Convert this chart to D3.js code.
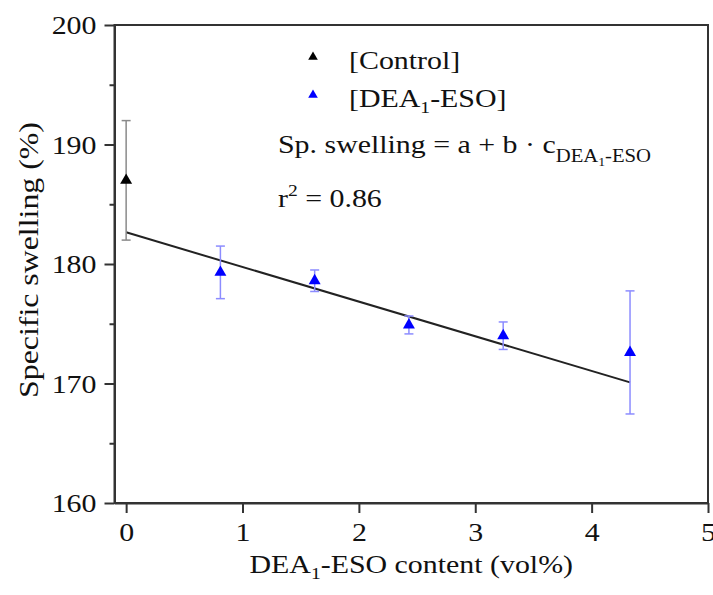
<!DOCTYPE html>
<html>
<head>
<meta charset="utf-8">
<script src="https://cdn.jsdelivr.net/npm/d3@7"></script>
<style>
  body { margin: 0; background: #fff; }
  text { font-family: "Liberation Serif", "Times New Roman", serif; fill: #111; }
  .axis path, .axis line { stroke: #333; stroke-width: 2; }
</style>
</head>
<body>
<div id="chart"></div>
<script>

// data
var controlX = [0],
    controlY = [187.0],
    controlErr = [5.0];

var deaX = [0.81, 1.62, 2.43, 3.24, 4.33],
    deaY = [179.3, 178.6, 174.9, 174.0, 172.6],
    deaErr = [2.2, 0.9, 0.75, 1.15, 5.15];

// linear fit  Sp. swelling = a + b * c
var fitA = 182.65,
    fitB = -2.9,
    fitRange = [0, 4.33];

var xTicks = [0, 1, 2, 3, 4, 5],
    yTicks = [160, 170, 180, 190, 200],
    yMinor = [165, 175, 185, 195];

var width = 713, height = 595;
var margin = { top: 25, right: 5, bottom: 92, left: 114.5 };
var sx = 1.15;   // glyphs in the picture are a bit wide

var svg = d3.select("#chart")
    .append("svg")
    .attr("width", width)
    .attr("height", height);

var x = d3.scaleLinear().domain([-0.1, 5]).range([margin.left, width - margin.right]);
var y = d3.scaleLinear().domain([160, 200]).range([height - margin.bottom, margin.top]);

// frame
svg.append("rect")
    .attr("x", x(-0.1))
    .attr("y", y(200))
    .attr("width", x(5) - x(-0.1))
    .attr("height", y(160) - y(200))
    .style("fill", "none")
    .style("stroke", "#333")
    .style("stroke-width", 2);

// y axis
var yAxis = svg.append("g")
    .attr("class", "axis")
    .attr("transform", "translate(" + x(-0.1) + ",0)")
    .call(d3.axisLeft(y).tickValues(yTicks).tickFormat(d3.format("d")).tickSize(10).tickSizeOuter(0));

yAxis.selectAll("text")
    .attr("x", null)
    .attr("dy", null)
    .attr("transform", "translate(-18,8.5) scale(" + sx + ",1)")
    .style("font-size", "26px")
    .style("text-anchor", "end");

svg.append("g")
    .attr("class", "axis")
    .attr("transform", "translate(" + x(-0.1) + ",0)")
    .call(d3.axisLeft(y).tickValues(yMinor).tickSize(5).tickFormat(""))
    .select(".domain").remove();

// x axis
var xAxis = svg.append("g")
    .attr("class", "axis")
    .attr("transform", "translate(0," + y(160) + ")")
    .call(d3.axisBottom(x).tickValues(xTicks).tickFormat(d3.format("d")).tickSize(10).tickSizeOuter(0));

xAxis.selectAll("text")
    .attr("y", null)
    .attr("dy", null)
    .attr("transform", "translate(0,38) scale(" + sx + ",1)")
    .style("font-size", "26px")
    .style("text-anchor", "middle");

// axis titles
var xt = svg.append("text")
    .attr("transform", "translate(" + ((x(-0.1) + x(5)) / 2) + ",573) scale(" + sx + ",1)")
    .style("font-size", "26px")
    .style("text-anchor", "middle");
xt.append("tspan").text("DEA");
xt.append("tspan").text("1").style("font-size", "17px").attr("dy", 6);
xt.append("tspan").text("-ESO content (vol%)").attr("dy", -6);

svg.append("text")
    .attr("transform", "translate(38," + ((y(160) + y(200)) / 2 - 4) + ") rotate(-90) scale(1.18,1)")
    .style("font-size", "27px")
    .style("text-anchor", "middle")
    .text("Specific swelling (%)");

// fit line
svg.append("line")
    .attr("x1", x(fitRange[0]))
    .attr("y1", y(fitA + fitB * fitRange[0]))
    .attr("x2", x(fitRange[1]))
    .attr("y2", y(fitA + fitB * fitRange[1]))
    .style("stroke", "#222")
    .style("stroke-width", 2);

// error bars + triangles
function drawSeries(xs, ys, errs, barColor, fill) {
    var data = xs.map(function (d, i) { return { x: d, y: ys[i], e: errs[i] }; });
    var g = svg.append("g");
    var eb = g.selectAll(".eb")
        .data(data)
        .enter()
        .append("g")
        .style("stroke", barColor)
        .style("stroke-width", 1.5);
    eb.append("line")
        .attr("x1", function (d) { return x(d.x); })
        .attr("x2", function (d) { return x(d.x); })
        .attr("y1", function (d) { return y(d.y + d.e); })
        .attr("y2", function (d) { return y(d.y - d.e); });
    eb.append("line")
        .attr("x1", function (d) { return x(d.x) - 4.5; })
        .attr("x2", function (d) { return x(d.x) + 4.5; })
        .attr("y1", function (d) { return y(d.y + d.e); })
        .attr("y2", function (d) { return y(d.y + d.e); });
    eb.append("line")
        .attr("x1", function (d) { return x(d.x) - 4.5; })
        .attr("x2", function (d) { return x(d.x) + 4.5; })
        .attr("y1", function (d) { return y(d.y - d.e); })
        .attr("y2", function (d) { return y(d.y - d.e); });

    g.selectAll(".tri")
        .data(data)
        .enter()
        .append("path")
        .attr("d", d3.symbol().type(d3.symbolTriangle).size(62))
        .attr("transform", function (d) { return "translate(" + x(d.x) + "," + y(d.y) + ")"; })
        .style("fill", fill);
}

drawSeries(controlX, controlY, controlErr, "#8a8a8a", "#000");
drawSeries(deaX, deaY, deaErr, "#8c8cff", "#0000ff");

// legend
var legend = [
    { label: ["[Control]"], color: "#000", ty: 57, by: 69 },
    { label: ["[DEA", "1", "-ESO]"], color: "#0000ff", ty: 95, by: 107 }
];

legend.forEach(function (l) {
    svg.append("path")
        .attr("d", d3.symbol().type(d3.symbolTriangle).size(40))
        .attr("transform", "translate(313," + l.ty + ")")
        .style("fill", l.color);
    var t = svg.append("text")
        .attr("transform", "translate(349," + l.by + ") scale(" + sx + ",1)")
        .style("font-size", "26px");
    t.append("tspan").text(l.label[0]);
    if (l.label.length > 1) {
        t.append("tspan").text(l.label[1]).style("font-size", "17px").attr("dy", 6);
        t.append("tspan").text(l.label[2]).attr("dy", -6);
    }
});

// equation
var eq = svg.append("text")
    .attr("transform", "translate(278,153) scale(" + sx + ",1)")
    .style("font-size", "26px");
eq.append("tspan").text("Sp. swelling = a + b \u00b7 c");
eq.append("tspan").text("DEA").style("font-size", "18px").attr("dy", 9);
eq.append("tspan").text("1").style("font-size", "12px").attr("dy", 4);
eq.append("tspan").text("-ESO").style("font-size", "18px").attr("dy", -4);

var r2 = svg.append("text")
    .attr("transform", "translate(278,207) scale(" + sx + ",1)")
    .style("font-size", "26px");
r2.append("tspan").text("r");
r2.append("tspan").text("2").style("font-size", "17px").attr("dy", -11);
r2.append("tspan").text(" = 0.86").attr("dy", 11);

</script>
</body>
</html>
